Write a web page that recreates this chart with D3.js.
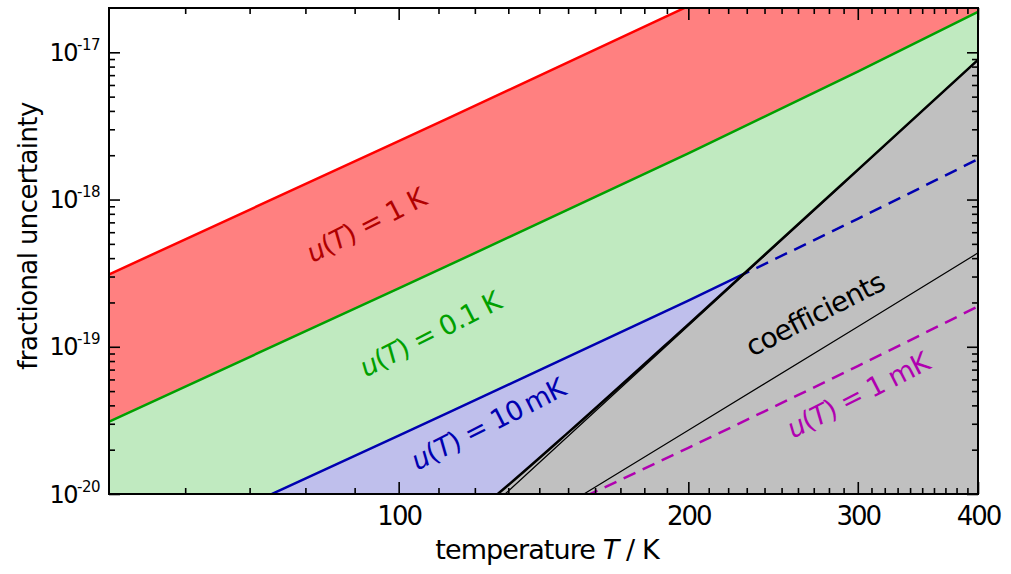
<!DOCTYPE html>
<html>
<head>
<meta charset="utf-8">
<script src="https://cdn.jsdelivr.net/npm/d3@7"></script>
<style>
  html, body { margin: 0; padding: 0; background: #fff; }
  svg { display: block; font-family: "DejaVu Sans", sans-serif; }
</style>
</head>
<body>
<svg id="chart" width="1011" height="574"></svg>
<script>
// Temperatures (K) at which each uncertainty curve is tabulated
const tempsU = [50, 100, 200, 300, 400];
// Fractional uncertainty for a given temperature uncertainty u(T)
const frac1K    = [3.1e-19, 2.49e-18, 2.06e-17, 7.4e-17, 1.88e-16];
const frac100mK = [3.1e-20, 2.49e-19, 2.06e-18, 7.4e-18, 1.88e-17];
const frac10mK  = [3.1e-21, 2.49e-20, 2.06e-19, 7.4e-19, 1.88e-18];
const frac1mK   = [3.1e-22, 2.49e-21, 2.06e-20, 7.4e-20, 1.88e-19];

// Uncertainty from the shift coefficients
const tempsDyn = [120, 129, 200, 300, 400];
const coefDynamic = [6.5e-21, 1.0e-20, 1.39e-19, 1.58e-18, 8.9e-18];
const tempsStat = [150, 200, 300, 400];
const coefStatic = [8.6e-21, 2.71e-20, 1.37e-19, 4.34e-19];
const tempsTot = [120, 130, 150, 200, 300, 400];
const coefTotal = [7.4e-21, 1.15e-20, 2.61e-20, 1.42e-19, 1.59e-18, 8.9e-18];

// Axis ticks
const xMajor = [100, 200, 300, 400];
const xMinor = [60, 70, 80, 90, 110, 120, 130, 140, 150, 160, 170, 180, 190,
                210, 220, 230, 240, 250, 260, 270, 280, 290,
                310, 320, 330, 340, 350, 360, 370, 380, 390];
const yMajor = [1e-20, 1e-19, 1e-18, 1e-17];
const yExponents = ["-20", "-19", "-18", "-17"];
const yMinor = [2e-20, 3e-20, 4e-20, 5e-20, 6e-20, 7e-20, 8e-20, 9e-20,
                2e-19, 3e-19, 4e-19, 5e-19, 6e-19, 7e-19, 8e-19, 9e-19,
                2e-18, 3e-18, 4e-18, 5e-18, 6e-18, 7e-18, 8e-18, 9e-18];

const L = 109, R = 978, T = 8, B = 494;
const svg = d3.select("#chart");

const x = d3.scaleLog().domain([50, 400]).range([L, R]);
const y = d3.scaleLog().domain([1e-20, 2e-17]).range([B, T]);

const defs = svg.append("defs");
defs.append("clipPath").attr("id", "plot")
  .append("rect").attr("x", L).attr("y", T).attr("width", R - L).attr("height", B - T);

const pts = (ts, vs) => ts.map((t, i) => [x(t), y(vs[i])]);
const lineGen = d3.line().curve(d3.curveMonotoneX);
const areaGen = d3.area().curve(d3.curveMonotoneX).y0(B + 40).x(d => d[0]).y1(d => d[1]);

// Regions on either side of the total coefficient curve
const totPts = pts(tempsTot, coefTotal);
const revTot = totPts.slice().reverse();
const totLine = lineGen(totPts);
defs.append("clipPath").attr("id", "aboveCoef")
  .append("path")
  .attr("d", `M${L - 20},${B + 60}L${L - 20},${T - 60}L${x(400) + 20},${T - 60}L${x(400) + 20},${revTot[0][1]}` +
             lineGen(revTot).replace(/^M/, "L") + `L${revTot[revTot.length - 1][0]},${B + 60}Z`);
defs.append("clipPath").attr("id", "belowCoef")
  .append("path")
  .attr("d", totLine + `L${x(400) + 20},${totPts[totPts.length - 1][1]}L${x(400) + 20},${B + 60}L${totPts[0][0]},${B + 60}Z`);

const plot = svg.append("g").attr("clip-path", "url(#plot)");

// Filled bands
plot.append("path").attr("d", areaGen(pts(tempsU, frac1K))).attr("fill", "#ff8080");
plot.append("path").attr("d", areaGen(pts(tempsU, frac100mK))).attr("fill", "#c0eac0");
plot.append("path").attr("d", areaGen(pts(tempsU, frac10mK))).attr("fill", "#bfbfec");
plot.append("path").attr("d", areaGen(totPts)).attr("fill", "#c0c0c0");

// Curves
plot.append("path").attr("d", lineGen(pts(tempsU, frac1K)))
  .attr("fill", "none").attr("stroke", "#ff0000").attr("stroke-width", 2.5);
plot.append("path").attr("d", lineGen(pts(tempsU, frac100mK)))
  .attr("fill", "none").attr("stroke", "#00a000").attr("stroke-width", 2.5);
plot.append("g").attr("clip-path", "url(#aboveCoef)")
  .append("path").attr("d", lineGen(pts(tempsU, frac10mK)))
  .attr("fill", "none").attr("stroke", "#0000b0").attr("stroke-width", 2.5);
plot.append("g").attr("clip-path", "url(#belowCoef)")
  .append("path").attr("d", lineGen(pts(tempsU, frac10mK)))
  .attr("fill", "none").attr("stroke", "#0000b0").attr("stroke-width", 2.5)
  .attr("stroke-dasharray", "13,8");
plot.append("path").attr("d", lineGen(pts(tempsU, frac1mK)))
  .attr("fill", "none").attr("stroke", "#b000b0").attr("stroke-width", 2.5)
  .attr("stroke-dasharray", "13,8");
plot.append("path").attr("d", lineGen(pts(tempsStat, coefStatic)))
  .attr("fill", "none").attr("stroke", "#000").attr("stroke-width", 1.2);
plot.append("path").attr("d", lineGen(pts(tempsDyn, coefDynamic)))
  .attr("fill", "none").attr("stroke", "#000").attr("stroke-width", 1.2);
plot.append("path").attr("d", totLine)
  .attr("fill", "none").attr("stroke", "#000").attr("stroke-width", 2.5);

// Axes with inward ticks on all four sides
function drawAxis(axis, transform, labels) {
  const g = svg.append("g").attr("transform", transform).call(axis);
  g.select(".domain").remove();
  g.selectAll(".tick line").attr("stroke", "#000").attr("stroke-width", 1.6);
  if (!labels) g.selectAll(".tick text").remove();
  return g;
}
const fmtInt = d3.format("d");
const bottomMaj = drawAxis(d3.axisBottom(x).tickValues(xMajor).tickSizeInner(-12).tickSizeOuter(0)
  .tickPadding(13).tickFormat(fmtInt), `translate(0,${B})`, true);
bottomMaj.selectAll(".tick text")
  .attr("font-size", 26).attr("letter-spacing", "-2px").attr("fill", "#000")
  .attr("font-family", "DejaVu Sans, sans-serif");
drawAxis(d3.axisBottom(x).tickValues(xMinor).tickSizeInner(-6).tickSizeOuter(0), `translate(0,${B})`, false);
drawAxis(d3.axisTop(x).tickValues(xMajor).tickSizeInner(-12).tickSizeOuter(0), `translate(0,${T})`, false);
drawAxis(d3.axisTop(x).tickValues(xMinor).tickSizeInner(-6).tickSizeOuter(0), `translate(0,${T})`, false);

drawAxis(d3.axisLeft(y).tickValues(yMajor).tickSizeInner(-11).tickSizeOuter(0), `translate(${L},0)`, false);
drawAxis(d3.axisLeft(y).tickValues(yMinor).tickSizeInner(-6).tickSizeOuter(0), `translate(${L},0)`, false);
drawAxis(d3.axisRight(y).tickValues(yMajor).tickSizeInner(-11).tickSizeOuter(0), `translate(${R},0)`, false);
drawAxis(d3.axisRight(y).tickValues(yMinor).tickSizeInner(-6).tickSizeOuter(0), `translate(${R},0)`, false);

// Power-of-ten labels on the y axis
const yLab = svg.append("g");
yMajor.forEach((v, i) => {
  const t = yLab.append("text")
    .attr("x", 100).attr("y", y(v) + 8.5)
    .attr("text-anchor", "end").attr("font-size", 24).attr("letter-spacing", "-1.5px");
  t.append("tspan").text("10");
  t.append("tspan").attr("font-size", 15).attr("dy", -11).attr("letter-spacing", "-0.5px").text(yExponents[i]);
});

// Frame
svg.append("rect").attr("x", L).attr("y", T).attr("width", R - L).attr("height", B - T)
  .attr("fill", "none").attr("stroke", "#000").attr("stroke-width", 2);

// Axis titles
const xt = svg.append("text").attr("x", 547).attr("y", 559).attr("text-anchor", "middle")
  .attr("font-size", 27).attr("letter-spacing", "-0.9px");
xt.append("tspan").text("temperature ");
xt.append("tspan").attr("font-style", "italic").text("T");
xt.append("tspan").text(" / K");

svg.append("text").attr("transform", "translate(37,236) rotate(-90)")
  .attr("text-anchor", "middle").attr("font-size", 26).attr("letter-spacing", "-0.6px")
  .text("fractional uncertainty");

// In-plot curve labels
function uLabel(cx, cy, angle, value, color) {
  const t = svg.append("text")
    .attr("transform", `translate(${cx},${cy}) rotate(${angle})`)
    .attr("text-anchor", "middle").attr("dy", "0.35em")
    .attr("font-size", 27).attr("letter-spacing", "-0.8px").attr("fill", color);
  t.append("tspan").attr("font-style", "italic").text("u");
  t.append("tspan").text("(");
  t.append("tspan").attr("font-style", "italic").text("T");
  t.append("tspan").text(") = " + value);
}
uLabel(366, 225, -27, "1 K", "#b00000");
uLabel(430, 334, -27, "0.1 K", "#00a000");
uLabel(488, 424, -27, "10\u2009mK", "#0000b0");
uLabel(858, 395, -27, "1 mK", "#b000b0");

svg.append("text").attr("transform", "translate(815,314) rotate(-27)")
  .attr("text-anchor", "middle").attr("dy", "0.35em")
  .attr("font-size", 28).attr("letter-spacing", "-0.8px").attr("fill", "#000")
  .text("coefficients");
</script>
</body>
</html>
